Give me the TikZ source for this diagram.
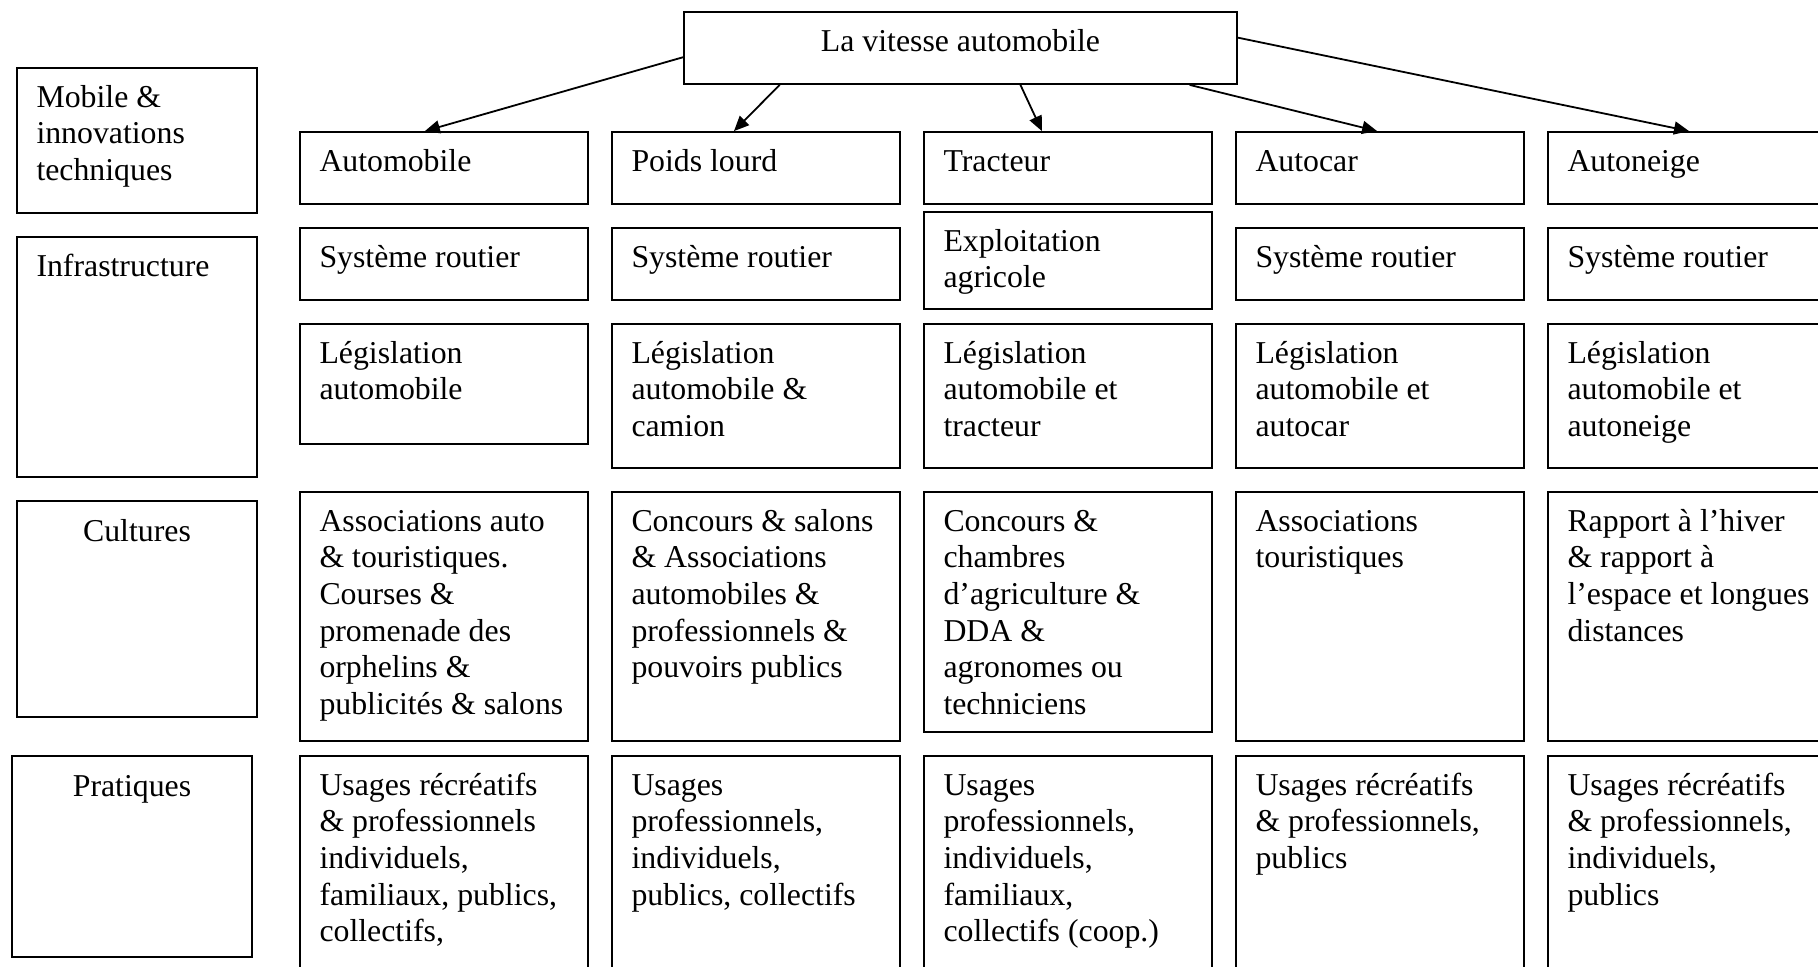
\documentclass[tikz,border=0pt]{standalone}
\usepackage{fontspec}
\setmainfont{Liberation Serif}
\usetikzlibrary{arrows.meta,calc,fit}

\tikzset{
  cellbox/.style={draw, line width=0.9pt, inner sep=0pt},
  celltext/.style={font=\fontsize{15.9}{18.33}\selectfont, align=left, inner sep=0pt, anchor=north west},
  headtext/.style={celltext, align=center, anchor=north},
  arr/.style={line width=0.9pt, -{Triangle[length=7.5pt,width=6.5pt]}}
}
% box from (x1,y1) to (x2,y2), text set at its top left
\newcommand{\plainbox}[5]{%
  \coordinate (#1-nw) at (#2,#3);
  \coordinate (#1-se) at (#4,#5);
  \node[cellbox, fit=(#1-nw)(#1-se)] (#1) {};
}
\newcommand{\cell}[6]{%
  \plainbox{#1}{#2}{#3}{#4}{#5}
  \node[celltext] (#1-txt) at ($(#1.north west)+(20,14)$) {\strut #6};
}

\begin{document}
\begin{tikzpicture}[x=0.5pt, y=-0.5pt]
  \path[use as bounding box, fill=white] (0,0) rectangle (1818,967);
  \clip (0,0) rectangle (1818,967);

  % title
  \plainbox{top}{684}{12}{1237}{84}
  \node[headtext] (top-txt) at ($(top.north)+(0,14)$) {\strut La vitesse automobile};

  % row labels
  \cell{mob}{17}{68}{257}{213}{Mobile \&\\innovations\\techniques}
  \cell{infra}{17}{237}{257}{477}{Infrastructure}
  \plainbox{cult}{17}{501}{257}{717}
  \node[headtext] (cult-txt) at ($(cult.north)+(0,15)$) {\strut Cultures};
  \plainbox{prat}{12}{756}{252}{957}
  \node[headtext] (prat-txt) at ($(prat.north)+(0,15)$) {\strut Pratiques};

  % automobile
  \cell{auto}{300}{132}{588}{204}{Automobile}
  \cell{auto-inf}{300}{228}{588}{300}{Système routier}
  \cell{auto-leg}{300}{324}{588}{444}{Législation\\automobile}
  \cell{auto-cul}{300}{492}{588}{741}{Associations auto\\\& touristiques.\\Courses \&\\promenade des\\orphelins \&\\publicités \& salons}
  \cell{auto-pra}{300}{756}{588}{990}{Usages récréatifs\\\& professionnels\\individuels,\\familiaux, publics,\\collectifs,}

  % poids lourd
  \cell{poids}{612}{132}{900}{204}{Poids lourd}
  \cell{poids-inf}{612}{228}{900}{300}{Système routier}
  \cell{poids-leg}{612}{324}{900}{468}{Législation\\automobile \&\\camion}
  \cell{poids-cul}{612}{492}{900}{741}{Concours \& salons\\\& Associations\\automobiles \&\\professionnels \&\\pouvoirs publics}
  \cell{poids-pra}{612}{756}{900}{990}{Usages\\professionnels,\\individuels,\\publics, collectifs}

  % tracteur
  \cell{tract}{924}{132}{1212}{204}{Tracteur}
  \cell{tract-inf}{924}{212}{1212}{309}{Exploitation\\agricole}
  \cell{tract-leg}{924}{324}{1212}{468}{Législation\\automobile et\\tracteur}
  \cell{tract-cul}{924}{492}{1212}{732}{Concours \&\\chambres\\d’agriculture \&\\DDA \&\\agronomes ou\\techniciens}
  \cell{tract-pra}{924}{756}{1212}{990}{Usages\\professionnels,\\individuels,\\familiaux,\\collectifs (coop.)}

  % autocar
  \cell{car}{1236}{132}{1524}{204}{Autocar}
  \cell{car-inf}{1236}{228}{1524}{300}{Système routier}
  \cell{car-leg}{1236}{324}{1524}{468}{Législation\\automobile et\\autocar}
  \cell{car-cul}{1236}{492}{1524}{741}{Associations\\touristiques}
  \cell{car-pra}{1236}{756}{1524}{990}{Usages récréatifs\\\& professionnels,\\publics}

  % autoneige (cut by the page edge)
  \cell{neige}{1548}{132}{1830}{204}{Autoneige}
  \cell{neige-inf}{1548}{228}{1830}{300}{Système routier}
  \cell{neige-leg}{1548}{324}{1830}{468}{Législation\\automobile et\\autoneige}
  \cell{neige-cul}{1548}{492}{1830}{741}{Rapport à l’hiver\\\& rapport à\\l’espace et longues\\distances}
  \cell{neige-pra}{1548}{756}{1830}{990}{Usages récréatifs\\\& professionnels,\\individuels,\\publics}

  % arrows from the title
  \draw[arr] ($(top.north west)!0.625!(top.south west)$) -- ($(auto.north west)!0.434!(auto.north east)$);
  \draw[arr] ($(top.south west)!0.174!(top.south east)$) -- ($(poids.north west)!0.424!(poids.north east)$);
  \draw[arr] ($(top.south west)!0.608!(top.south east)$) -- ($(tract.north west)!0.41!(tract.north east)$);
  \draw[arr] ($(top.south west)!0.913!(top.south east)$) -- ($(car.north west)!0.49!(car.north east)$);
  \draw[arr] ($(top.north east)!0.36!(top.south east)$) -- ($(neige.north west)!0.5!(neige.north east)$);
\end{tikzpicture}
\end{document}
